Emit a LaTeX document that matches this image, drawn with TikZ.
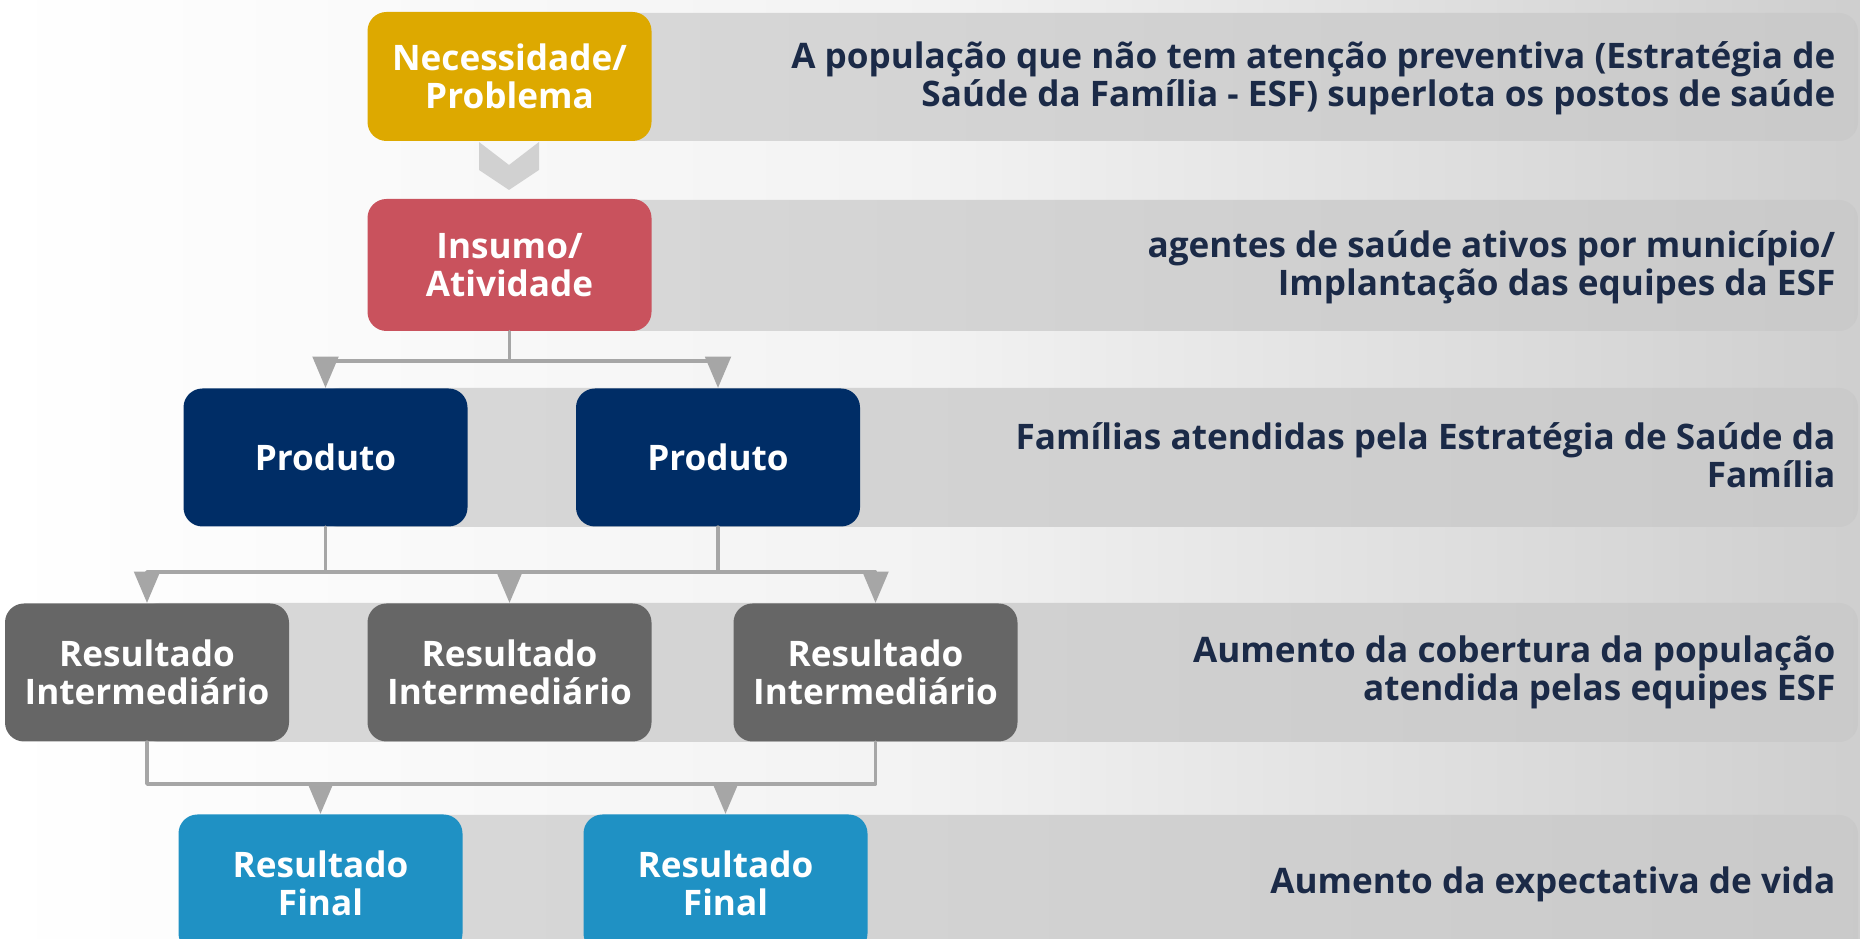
\documentclass[tikz,border=0pt]{standalone}
\usepackage{fontspec}
\setmainfont{Open Sans}
\usepackage{xcolor}
\usetikzlibrary{arrows}

\definecolor{necess}{HTML}{DDA900}
\definecolor{insumo}{HTML}{C9525D}
\definecolor{produto}{HTML}{002D66}
\definecolor{interm}{HTML}{666666}
\definecolor{final}{HTML}{1F91C4}
\definecolor{ink}{HTML}{1B2A47}
\definecolor{conn}{HTML}{A6A6A6}

\begin{document}
\begin{tikzpicture}[line cap=round,line join=round,>=triangle 45,x=1.0cm,y=1.0cm,
  box/.style={rounded corners=0.19cm,minimum width=2.84cm,minimum height=1.38cm,inner sep=0pt,
    align=center,text=white,font=\fontsize{10}{10.8}\selectfont\bfseries},
  band/.style={rounded corners=0.19cm,left color=black!15,right color=black!21},
  desc/.style={anchor=east,align=right,text=ink,inner sep=0pt,font=\fontsize{10}{10.8}\selectfont\bfseries},
  link/.style={draw=conn,line width=1.05pt}]
 	\useasboundingbox (0,0) rectangle (18.6,9.39);
 	\shade[left color=white,right color=black!19,middle color=black!5] (0,0) rectangle (18.6,9.39);
 	% faixas
 	\shade[band] (5.0,7.98) rectangle (18.58,9.26);
 	\shade[band] (5.0,6.08) rectangle (18.58,7.39);
 	\shade[band] (3.2,4.12) rectangle (18.58,5.51);
 	\shade[band] (1.4,1.97) rectangle (18.58,3.36);
 	\shade[band] (3.2,-0.2) rectangle (18.58,1.24);
 	% seta entre necessidade e insumo
 	\fill[black!18] (4.79,7.97) -- (5.09,7.74) -- (5.39,7.97) -- (5.39,7.69) -- (5.09,7.49) -- (4.79,7.69) -- cycle;
 	% caixas
 	\node[box,fill=necess,minimum height=1.29cm] (nec) at (5.095,8.625) {Necessidade/\\Problema};
 	\node[box,fill=insumo,minimum height=1.32cm] (ins) at (5.095,6.74) {Insumo/\\Atividade};
 	\node[box,fill=produto] (prod1) at (3.255,4.815) {Produto};
 	\node[box,fill=produto] (prod2) at (7.18,4.815) {Produto};
 	\node[box,fill=interm] (ri1) at (1.47,2.665) {Resultado\\Intermediário};
 	\node[box,fill=interm] (ri2) at (5.095,2.665) {Resultado\\Intermediário};
 	\node[box,fill=interm] (ri3) at (8.755,2.665) {Resultado\\Intermediário};
 	\node[box,fill=final] (rf1) at (3.205,0.555) {Resultado\\Final};
 	\node[box,fill=final] (rf2) at (7.255,0.555) {Resultado\\Final};
 	% ligacoes
 	\coordinate (j1) at (5.095,5.78);
 	\coordinate (j2) at (5.095,3.67);
 	\coordinate (j3) at (5.095,1.55);
 	\draw[link] (ins) -- (j1);
 	\draw[link,->] (j1) -| (prod1);
 	\draw[link,->] (j1) -| (prod2);
 	\draw[link] (prod1) |- (j2);
 	\draw[link] (prod2) |- (j2);
 	\draw[link,->] (j2) -| (ri1);
 	\draw[link,->] (j2) -- (ri2);
 	\draw[link,->] (j2) -| (ri3);
 	\draw[link] (ri1) |- (j3);
 	\draw[link] (ri3) |- (j3);
 	\draw[link,->] (j3) -| (rf1);
 	\draw[link,->] (j3) -| (rf2);
 	% textos
 	\node[desc] (t1) at (18.36,8.61) {A população que não tem atenção preventiva (Estratégia de\\Saúde da Família - ESF) superlota os postos de saúde};
 	\node[desc] (t2) at (18.36,6.72) {agentes de saúde ativos por município/\\Implantação das equipes da ESF};
 	\node[desc] (t3) at (18.36,4.84) {Famílias atendidas pela Estratégia de Saúde da\\Família};
 	\node[desc] (t4) at (18.36,2.67) {Aumento da cobertura da população\\atendida pelas equipes ESF};
 	\node[desc] (t5) at (18.36,0.55) {Aumento da expectativa de vida};
\end{tikzpicture}
\end{document}
